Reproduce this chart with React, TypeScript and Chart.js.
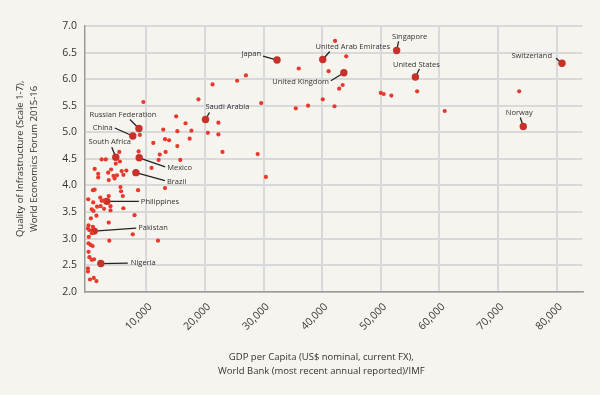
import React, { useEffect, useRef } from "react";
import { Chart, registerables } from "chart.js";

Chart.register(...registerables);

// ---- Data: unlabelled countries (GDP per capita US$, infrastructure score) ----
const otherGdp = [
  9500, 18900, 15100, 16700, 8900, 12900, 15300, 17700, 13200, 13900,
  17400, 11200, 15300, 8700, 5400, 12300, 13300, 2400, 3100, 5500,
  4800, 15800, 12100, 10900, 1200, 4000, 3500, 1800, 5800, 6600,
  4400, 5000, 6100, 1800, 3600, 4600, 5600, 5700, 1200, 900,
  8600, 3600, 6000, 13200, 100, 950, 2150, 2400, 2800, 700,
  1000, 1600, 2200, 2800, 3900, 3900, 6100, 8000, 1500, 550,
  3600, 150, 900, 270, 700, 200, 7700, 3700, 12000, 150,
  500, 850, 150, 300, 700, 1100, 50, 50, 400, 1050,
  1500, 50,
  22300, 20500, 22300, 23000, 29000, 30400, 21300, 25500, 27000, 29600,
  35500, 37600, 40100, 42100, 36000, 41100, 42200, 44100, 43500, 42900,
  50000, 50500, 51800, 56200, 60900, 73600,
];
const otherScore = [
  5.57, 5.62, 5.30, 5.17, 4.95, 5.05, 5.02, 5.03, 4.87, 4.85,
  4.88, 4.80, 4.74, 4.64, 4.63, 4.58, 4.63, 4.49, 4.49, 4.45,
  4.41, 4.48, 4.48, 4.33, 4.31, 4.30, 4.24, 4.22, 4.27, 4.28,
  4.18, 4.19, 4.20, 4.15, 4.10, 4.13, 3.97, 3.89, 3.92, 3.91,
  3.91, 3.80, 3.80, 3.95, 3.74, 3.68, 3.77, 3.71, 3.72, 3.55,
  3.52, 3.60, 3.61, 3.56, 3.61, 3.53, 3.57, 3.44, 3.43, 3.38,
  3.30, 3.25, 3.22, 3.16, 3.10, 3.03, 3.08, 2.96, 2.96, 2.91,
  2.88, 2.86, 2.75, 2.65, 2.60, 2.61, 2.44, 2.38, 2.23, 2.26,
  2.20, 3.19,
  5.18, 4.99, 4.96, 4.63, 4.59, 4.16, 5.90, 5.97, 6.07, 5.55,
  5.45, 5.50, 5.62, 5.49, 6.20, 6.15, 6.72, 6.43, 5.89, 5.82,
  5.74, 5.72, 5.69, 5.77, 5.40, 5.77,
];

// ---- Data: labelled countries ----
const labelledCountries = [
  "Japan", "United Arab Emirates", "Singapore", "United Kingdom", "United States",
  "Switzerland", "Norway", "Saudi Arabia", "Russian Federation", "China",
  "South Africa", "Mexico", "Brazil", "Philippines", "Pakistan", "Nigeria",
];
const labelledGdp = [
  32300, 40100, 52700, 43700, 55900,
  80900, 74300, 20100, 8750, 7700,
  4800, 8800, 8230, 3280, 1120, 2250,
];
const labelledScore = [
  6.36, 6.37, 6.54, 6.12, 6.04,
  6.30, 5.11, 5.24, 5.07, 4.93,
  4.53, 4.52, 4.24, 3.70, 3.14, 2.53,
];

// ---- Tick labels / titles ----
const xTickValues = [10000, 20000, 30000, 40000, 50000, 60000, 70000, 80000];
const yTickValues = [2.0, 2.5, 3.0, 3.5, 4.0, 4.5, 5.0, 5.5, 6.0, 6.5, 7.0];
const xAxisTitle = [
  "GDP per Capita (US$ nominal, current FX),",
  "World Bank (most recent annual reported)/IMF",
];
const yAxisTitle = [
  "Quality of Infrastructure (Scale 1-7),",
  "World Economics Forum 2015-16",
];

// ---- Styling ----
const FONT = "'Open Sans', 'Noto Sans', sans-serif";
const TEXT = "#333333";
const BG = "#f6f4ee";

// label placement relative to the point (px): [textDx, textDy, align, lineDx, lineDy]
const labelPlacement: Record<string, [number, number, CanvasTextAlign, number, number]> = {
  "Japan": [-16, -6, "right", -14, -4],
  "United Arab Emirates": [30, -13, "center", 7, -8],
  "Singapore": [13, -13.5, "center", 2, -9],
  "United Kingdom": [-15, 9.5, "right", -13, 8],
  "United States": [1, -12, "center", 4, -8],
  "Switzerland": [-10, -7.5, "right", -6, -5],
  "Norway": [-4, -14, "center", -3, -9],
  "Saudi Arabia": [0, -12.5, "left", 4, -7],
  "Russian Federation": [-16, -13.5, "center", -9, -9],
  "China": [-20, -8.5, "right", -18, -8],
  "South Africa": [-6, -15.5, "center", -4, -10],
  "Mexico": [28, 10, "left", 26, 9],
  "Brazil": [31, 9, "left", 29, 8],
  "Philippines": [34, 0.5, "left", 32, 0],
  "Pakistan": [44, -3.5, "left", 42, -3],
  "Nigeria": [30, -0.5, "left", 27, -0.5],
};

const countryLabels = {
  id: "countryLabels",
  beforeDatasetsDraw(chart: any) {
    const meta = chart.getDatasetMeta(1);
    const ctx = chart.ctx;
    ctx.save();
    ctx.strokeStyle = "#222";
    ctx.lineWidth = 1.3;
    meta.data.forEach((pt: any, i: number) => {
      const p = labelPlacement[labelledCountries[i]];
      if (!p) return;
      ctx.beginPath();
      ctx.moveTo(pt.x, pt.y);
      ctx.lineTo(pt.x + p[3], pt.y + p[4]);
      ctx.stroke();
    });
    ctx.restore();
  },
  afterDatasetsDraw(chart: any) {
    const meta = chart.getDatasetMeta(1);
    const ctx = chart.ctx;
    ctx.save();
    ctx.fillStyle = TEXT;
    ctx.font = `7.5px ${FONT}`;
    ctx.textBaseline = "middle";
    meta.data.forEach((pt: any, i: number) => {
      const p = labelPlacement[labelledCountries[i]];
      if (!p) return;
      ctx.textAlign = p[2];
      ctx.fillText(labelledCountries[i], pt.x + p[0], pt.y + p[1]);
    });
    ctx.restore();
  },
};

const xTitlePlugin = {
  id: "xTitle",
  afterDraw(chart: any) {
    const ctx = chart.ctx;
    const area = chart.chartArea;
    const cx = area.left + (area.right - area.left) * 0.475;
    ctx.save();
    ctx.fillStyle = TEXT;
    ctx.font = `9.5px ${FONT}`;
    ctx.textAlign = "center";
    ctx.textBaseline = "middle";
    xAxisTitle.forEach((line, i) => {
      ctx.fillText(line, cx, area.bottom + 65.5 + i * 14.3);
    });
    ctx.restore();
  },
};

const bgPlugin = {
  id: "bg",
  beforeDraw(chart: any) {
    const ctx = chart.ctx;
    ctx.save();
    ctx.fillStyle = BG;
    ctx.fillRect(0, 0, chart.width, chart.height);
    ctx.restore();
  },
};

export default function App() {
  const canvasRef = useRef<HTMLCanvasElement | null>(null);

  useEffect(() => {
    if (!canvasRef.current) return;
    const others = otherGdp.map((g, i) => ({ x: g, y: otherScore[i] }));
    const labelled = labelledGdp.map((g, i) => ({ x: g, y: labelledScore[i] }));

    const chart = new Chart(canvasRef.current, {
      type: "scatter",
      data: {
        datasets: [
          {
            label: "Countries",
            data: others,
            backgroundColor: "#ea382c",
            borderWidth: 0,
            pointRadius: 2.1,
          },
          {
            label: "Highlighted",
            data: labelled,
            backgroundColor: "#c8302a",
            borderWidth: 0,
            pointRadius: 3.7,
          },
        ],
      },
      options: {
        animation: false,
        responsive: false,
        maintainAspectRatio: false,
        layout: { padding: { top: 26, right: 17.5, left: 0, bottom: 0 } },
        plugins: {
          legend: { display: false },
          tooltip: { enabled: false },
        },
        scales: {
          x: {
            type: "linear",
            min: -450,
            max: 84400,
            afterBuildTicks(scale: any) {
              scale.ticks = xTickValues.map((v) => ({ value: v }));
            },
            afterFit(scale: any) {
              scale.height = 103.3;
            },
            grid: { color: "#d9d9d9", lineWidth: 2, drawTicks: false },
            border: { color: "#9a9a9a", width: 1.5 },
            ticks: {
              color: TEXT,
              font: { family: FONT, size: 10.5 },
              maxRotation: 45,
              minRotation: 45,
              padding: 9,
              labelOffset: 4,
              autoSkip: false,
              callback: (v: any) => Number(v).toLocaleString("en-US"),
            },
          },
          y: {
            type: "linear",
            min: 2,
            max: 7,
            afterBuildTicks(scale: any) {
              scale.ticks = yTickValues.map((v) => ({ value: v }));
            },
            afterFit(scale: any) {
              scale.width = 85;
            },
            grid: { color: "#d9d9d9", lineWidth: 2, drawTicks: false },
            border: { color: "#9a9a9a", width: 1.5 },
            ticks: {
              color: TEXT,
              font: { family: FONT, size: 10.5 },
              padding: 8,
              callback: (v: any) => Number(v).toFixed(1),
            },
            title: {
              display: true,
              text: yAxisTitle,
              color: TEXT,
              font: { family: FONT, size: 9.5, lineHeight: 1.5 },
              padding: { top: 13, bottom: 0 },
            },
          },
        },
      },
      plugins: [bgPlugin, countryLabels, xTitlePlugin],
    });
    return () => chart.destroy();
  }, []);

  return (
    <div style={{ position: "absolute", left: 0, top: 0, width: 600, height: 395, background: BG }}>
      <canvas ref={canvasRef} width={600} height={395} style={{ display: "block", width: 600, height: 395 }} />
    </div>
  );
}
